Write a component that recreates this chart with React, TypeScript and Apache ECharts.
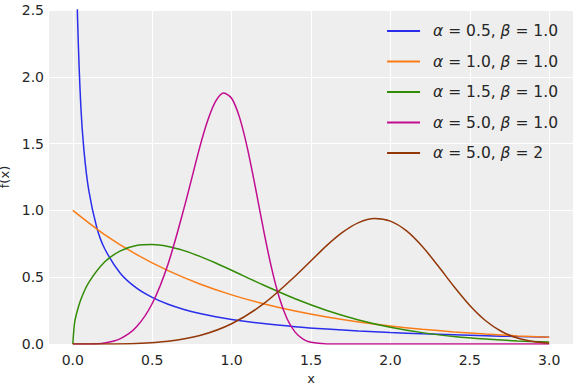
import React, { useEffect, useRef } from "react";
import * as echarts from "echarts";

const seriesNames = [
  "α = 0.5, β = 1.0",
  "α = 1.0, β = 1.0",
  "α = 1.5, β = 1.0",
  "α = 5.0, β = 1.0",
  "α = 5.0, β = 2",
];
const colors = ["#2a2eec", "#fa7c17", "#328c06", "#c10c90", "#933708"];

const xTicks = [0, 0.5, 1, 1.5, 2, 2.5, 3];

const xA = [0.01, 0.02, 0.03, 0.05, 0.07, 0.1, 0.15, 0.2, 0.3, 0.4, 0.5, 0.6, 0.7, 0.8, 0.9, 1.0, 1.2, 1.4, 1.6, 1.8, 2.0, 2.2, 2.4, 2.6, 2.8, 3.0];
const yA = [4.52, 3.07, 2.43, 1.789, 1.451, 1.153, 0.876, 0.715, 0.528, 0.42, 0.349, 0.2975, 0.2588, 0.2285, 0.2041, 0.1839, 0.1526, 0.1294, 0.1116, 0.0974, 0.086, 0.0765, 0.0685, 0.0618, 0.0561, 0.0511];

const xB = [0, 0.2, 0.4, 0.6, 0.8, 1.0, 1.2, 1.4, 1.6, 1.8, 2.0, 2.2, 2.4, 2.6, 2.8, 3.0];
const yB = [1, 0.8187, 0.6703, 0.5488, 0.4493, 0.3679, 0.3012, 0.2466, 0.2019, 0.1653, 0.1353, 0.1108, 0.0907, 0.0743, 0.0608, 0.0498];

const xC = [0, 0.01, 0.02, 0.05, 0.1, 0.2, 0.3, 0.4, 0.5, 0.6, 0.7, 0.8, 0.9, 1.0, 1.2, 1.4, 1.6, 1.8, 2.0, 2.2, 2.4, 2.6, 2.8, 3.0];
const yC = [0, 0.15, 0.2115, 0.3317, 0.4596, 0.6134, 0.6971, 0.7367, 0.7448, 0.73, 0.6987, 0.6561, 0.6059, 0.5518, 0.4414, 0.3387, 0.2507, 0.1799, 0.1254, 0.0852, 0.0565, 0.0366, 0.0232, 0.0144];

const xD = [0, 0.1, 0.2, 0.3, 0.4, 0.5, 0.6, 0.7, 0.8, 0.85, 0.9, 0.95, 1.0, 1.05, 1.1, 1.15, 1.2, 1.25, 1.3, 1.35, 1.4, 1.45, 1.5, 1.6, 1.7, 2.0, 2.5, 3.0];
const yD = [0, 0.0005, 0.008, 0.0404, 0.1267, 0.3029, 0.5995, 1.0148, 1.4758, 1.6749, 1.8177, 1.8787, 1.8394, 1.6962, 1.4626, 1.1701, 0.861, 0.577, 0.3486, 0.1875, 0.0887, 0.0364, 0.0127, 0.0009, 0.0, 0, 0, 0];

const xE = [0, 0.2, 0.4, 0.6, 0.8, 1.0, 1.2, 1.4, 1.6, 1.7, 1.8, 1.9, 2.0, 2.1, 2.2, 2.3, 2.4, 2.5, 2.6, 2.7, 2.8, 2.9, 3.0];
const yE = [0, 0.00025, 0.004, 0.0202, 0.0634, 0.1515, 0.2998, 0.5074, 0.7379, 0.8375, 0.9089, 0.9394, 0.9197, 0.8481, 0.7313, 0.5851, 0.4305, 0.2885, 0.1743, 0.0938, 0.0444, 0.0182, 0.0064];

const xs = [xA, xB, xC, xD, xE];
const ys = [yA, yB, yC, yD, yE];

const textColor = "#262626";
const fontFamily = "DejaVu Sans";

function legendLabel(name: string) {
  return "{g|}" + name.replace(/([αβ])/g, "{i|$1}");
}

export default function App() {
  const ref = useRef<HTMLDivElement>(null);
  useEffect(() => {
    if (!ref.current) return;
    const chart = echarts.init(ref.current, null, { renderer: "svg" });
    const series = seriesNames.map((name, i) => ({
      name,
      type: "line",
      data: xs[i].map((x, j) => [x, ys[i][j]]),
      showSymbol: false,
      symbol: "none",
      smooth: 0.3,
      clip: true,
      lineStyle: { width: 1.5, color: colors[i] },
      itemStyle: { color: colors[i] },
    }));
    chart.setOption({
      animation: false,
      backgroundColor: "#ffffff",
      textStyle: { fontFamily },
      grid: {
        left: 49,
        right: 3,
        top: 10,
        bottom: 40,
        show: true,
        backgroundColor: "#eeeeee",
        borderWidth: 0,
        containLabel: false,
        outerBoundsMode: "none",
      },
      legend: {
        orient: "vertical",
        right: 13,
        top: 18,
        itemWidth: 33,
        itemHeight: 12,
        itemGap: 14.5,
        icon: "path://M0,0 L33,0 L33,2 L0,2 Z",
        formatter: legendLabel,
        textStyle: {
          fontSize: 15.5,
          color: textColor,
          fontFamily,
          rich: {
            g: { width: 8, fontSize: 15.5 },
            i: { fontStyle: "italic", fontSize: 15.5, color: textColor, fontFamily },
          },
        },
        data: seriesNames.map((n, i) => ({ name: n, itemStyle: { color: colors[i] } })),
      },
      xAxis: {
        type: "value",
        min: -0.15,
        max: 3.15,
        name: "x",
        nameLocation: "middle",
        nameGap: 24,
        nameTextStyle: { fontSize: 13, color: textColor, fontFamily },
        axisLine: { show: false },
        axisTick: { show: false, customValues: xTicks },
        axisLabel: {
          customValues: xTicks,
          fontSize: 14,
          color: textColor,
          margin: 9,
          formatter: (v: number) => v.toFixed(1),
        },
        splitLine: { show: true, lineStyle: { color: "#ffffff", width: 1 } },
      },
      yAxis: {
        type: "value",
        min: 0,
        max: 2.5,
        interval: 0.5,
        name: "f(x)",
        nameLocation: "middle",
        nameGap: 34,
        nameTextStyle: { fontSize: 13, color: textColor, fontFamily },
        axisLine: { show: false },
        axisTick: { show: false },
        axisLabel: {
          fontSize: 14,
          color: textColor,
          margin: 5,
          formatter: (v: number) => v.toFixed(1),
        },
        splitLine: { show: true, lineStyle: { color: "#ffffff", width: 1 } },
      },
      series,
    });
    return () => chart.dispose();
  }, []);
  return <div ref={ref} style={{ width: 576, height: 384, position: "absolute", left: 0, top: 0 }} />;
}
